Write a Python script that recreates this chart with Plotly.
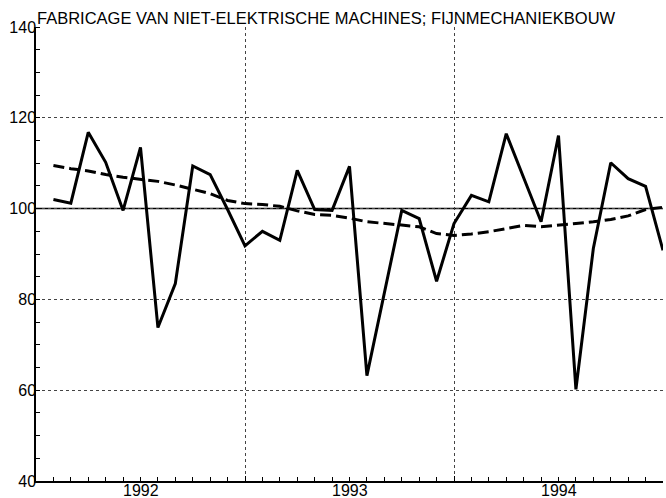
import plotly.graph_objects as go

MONTHS = list(range(1, 37))
INDEX = [102.0, 101.2, 116.8, 110.2, 99.6, 113.5, 73.8, 83.5, 109.4, 107.5, 99.8, 91.8,
         95.0, 93.0, 108.4, 99.8, 99.6, 109.3, 63.2, 81.5, 99.6, 97.8, 84.0, 96.7,
         102.9, 101.5, 116.5, 106.8, 97.1, 116.1, 60.2, 91.2, 110.1, 106.6, 104.9, 90.8]
TREND = [109.5, 108.8, 108.3, 107.5, 106.9, 106.4, 106.0, 105.2, 104.2, 103.3, 101.8, 101.1,
         100.9, 100.5, 99.5, 98.7, 98.5, 97.9, 97.1, 96.7, 96.3, 96.0, 94.5, 94.1,
         94.4, 94.9, 95.6, 96.3, 96.0, 96.3, 96.7, 97.1, 97.6, 98.4, 99.8, 100.3]
YEARS = ["1992", "1993", "1994"]
YEAR_CENTERS = [6, 18, 30]
YEAR_BOUNDS = [0, 12, 24, 36]
Y_TICKS = [40, 60, 80, 100, 120, 140]
BASE = 100
TITLE = "FABRICAGE VAN NIET-ELEKTRISCHE MACHINES; FIJNMECHANIEKBOUW"

FONT = "Liberation Sans, Arial, Helvetica, sans-serif"

fig = go.Figure()
fig.add_trace(go.Scatter(x=MONTHS, y=TREND, mode="lines",
                         line=dict(color="black", width=3, dash="11px,5px"),
                         showlegend=False, hoverinfo="skip"))
fig.add_trace(go.Scatter(x=MONTHS, y=INDEX, mode="lines",
                         line=dict(color="black", width=3),
                         showlegend=False, hoverinfo="skip"))

fig.add_shape(type="line", xref="paper", x0=0, x1=1, yref="y", y0=BASE, y1=BASE,
              line=dict(color="black", width=1.5), layer="between")

for xc, yr in zip(YEAR_CENTERS, YEARS):
    fig.add_annotation(x=xc, xref="x", y=0, yref="paper", text=yr, showarrow=False,
                       yanchor="top", yshift=1, font=dict(family=FONT, size=16, color="black"))

fig.update_layout(
    width=666, height=498,
    margin=dict(l=36, r=3, t=27, b=17),
    paper_bgcolor="white", plot_bgcolor="white",
    title=dict(text=TITLE, xref="container", x=37/666, xanchor="left",
               yref="container", y=1 - 18/498, yanchor="middle",
               font=dict(family=FONT, size=16.5, color="black")),
    xaxis=dict(range=[0, 36], tickmode="array", tickvals=YEAR_BOUNDS, showticklabels=False,
               ticks="inside", ticklen=5, tickcolor="black", tickwidth=1,
               showgrid=True, gridcolor="#444", griddash="dot", gridwidth=1,
               showline=True, linecolor="black", linewidth=2, zeroline=False,
               minor=dict(tickmode="linear", tick0=0, dtick=1, ticks="inside", ticklen=4,
                          tickcolor="black", tickwidth=1, showgrid=False)),
    yaxis=dict(range=[40, 140], tickmode="array", tickvals=Y_TICKS, ticks="",
               showgrid=True, gridcolor="#444", griddash="dot", gridwidth=1,
               showline=True, linecolor="black", linewidth=1.5, zeroline=False,
               tickfont=dict(family=FONT, size=16, color="black"), ticklabelstandoff=-5,
               minor=dict(tickmode="linear", tick0=40, dtick=5, ticks="inside", ticklen=4,
                          tickcolor="black", tickwidth=1, showgrid=False)),
)

fig.write_html("out.html", config={"displayModeBar": False},
               post_script="document.body.style.margin='0';")
